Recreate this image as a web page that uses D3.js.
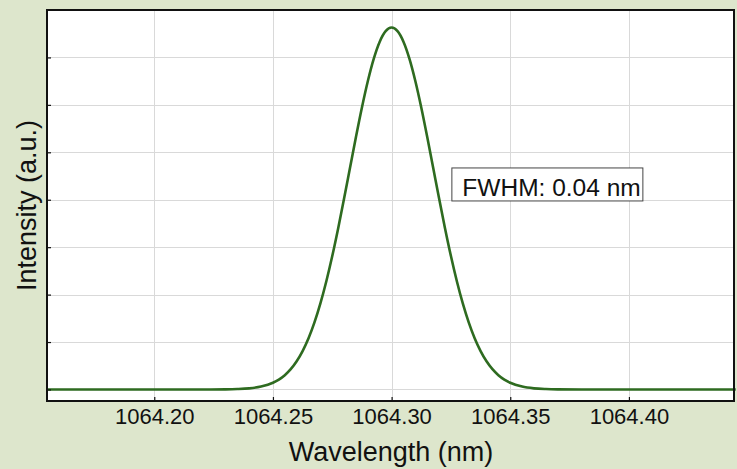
<!DOCTYPE html>
<html>
<head>
<meta charset="utf-8">
<script src="https://cdn.jsdelivr.net/npm/d3@7"></script>
<style>
  html, body { margin: 0; padding: 0; background: #dde6cc; }
  svg { display: block; }
  text { font-family: "Liberation Sans", Arial, sans-serif; fill: #111; }
</style>
</head>
<body>
<script>
// ---- data ----
const wavelength = [
  1064.155, 1064.20, 1064.22, 1064.23, 1064.235, 1064.24, 1064.245,
  1064.25, 1064.2525, 1064.255, 1064.2575, 1064.26, 1064.2625, 1064.265, 1064.2675,
  1064.27, 1064.2725, 1064.275, 1064.2775, 1064.28, 1064.2825, 1064.285, 1064.2875,
  1064.29, 1064.2925, 1064.295, 1064.2975, 1064.30,
  1064.3025, 1064.305, 1064.3075, 1064.31, 1064.3125, 1064.315, 1064.3175, 1064.32,
  1064.3225, 1064.325, 1064.3275, 1064.33, 1064.3325, 1064.335, 1064.3375, 1064.34,
  1064.3425, 1064.345, 1064.3475, 1064.35,
  1064.355, 1064.36, 1064.365, 1064.37, 1064.38, 1064.40, 1064.445
];
const intensity = [
  0, 0, 0, 0.003, 0.009, 0.024, 0.061,
  0.141, 0.208, 0.301, 0.427, 0.594, 0.809, 1.080, 1.414,
  1.814, 2.282, 2.814, 3.401, 4.030, 4.680, 5.328, 5.946,
  6.504, 6.975, 7.332, 7.554, 7.630,
  7.554, 7.332, 6.975, 6.504, 5.946, 5.328, 4.680, 4.030,
  3.401, 2.814, 2.282, 1.814, 1.414, 1.080, 0.809, 0.594,
  0.427, 0.301, 0.208, 0.141,
  0.061, 0.024, 0.009, 0.003, 0, 0, 0
];
const xTicks = [1064.20, 1064.25, 1064.30, 1064.35, 1064.40];
const yTicks = [0, 1, 2, 3, 4, 5, 6, 7];
const xDomain = [1064.1548, 1064.4447];
const yDomain = [-0.243, 8.0];
const xTitle = "Wavelength (nm)";
const yTitle = "Intensity (a.u.)";
const annotation = "FWHM: 0.04 nm";
const annotationAt = [1064.3254, 4.67]; // top-left corner of the label box, in data units

// ---- layout ----
const W = 737, H = 469;
const m = { left: 47, top: 10, right: 2, bottom: 68 };
const pw = W - m.left - m.right, ph = H - m.top - m.bottom;

const svg = d3.select("body").append("svg").attr("width", W).attr("height", H);
svg.append("rect").attr("width", W).attr("height", H).attr("fill", "#dde6cc");

const x = d3.scaleLinear().domain(xDomain).range([m.left, m.left + pw]);
const y = d3.scaleLinear().domain(yDomain).range([m.top + ph, m.top]);

// plot background
svg.append("rect").attr("x", m.left).attr("y", m.top).attr("width", pw).attr("height", ph).attr("fill", "#fff");

// gridlines
const grid = svg.append("g");
grid.selectAll("line.gx").data(xTicks).join("line")
  .attr("x1", d => Math.round(x(d)) + 0.5).attr("x2", d => Math.round(x(d)) + 0.5)
  .attr("y1", m.top).attr("y2", m.top + ph)
  .attr("stroke", "#d9d9d9").attr("stroke-width", 1);
grid.selectAll("line.gy").data(yTicks).join("line")
  .attr("y1", d => Math.round(y(d)) + 0.5).attr("y2", d => Math.round(y(d)) + 0.5)
  .attr("x1", m.left).attr("x2", m.left + pw)
  .attr("stroke", "#d9d9d9").attr("stroke-width", 1);

// curve
const pts = wavelength.map((w, i) => [w, intensity[i]]);
const line = d3.line().x(d => x(d[0])).y(d => y(d[1])).curve(d3.curveMonotoneX);
svg.append("path").datum(pts).attr("d", line)
  .attr("fill", "none").attr("stroke", "#2e6b20").attr("stroke-width", 2.6)
  .attr("stroke-linejoin", "round");

// axes (ticks inward, labels on x only)
const xAxis = d3.axisBottom(x).tickValues(xTicks).tickFormat(d3.format(".2f")).tickSizeInner(-4).tickSizeOuter(0).tickPadding(10);
const gx = svg.append("g").attr("transform", `translate(0,${m.top + ph})`).call(xAxis);
gx.select(".domain").remove();
gx.selectAll(".tick line").attr("stroke", "#111").attr("stroke-width", 1.2);
gx.selectAll(".tick text").attr("font-size", 22).attr("fill", "#111")
  .attr("font-family", "'Liberation Sans', Arial, sans-serif").attr("dy", null).attr("y", 22.5);

const yAxis = d3.axisLeft(y).tickValues(yTicks).tickFormat("").tickSizeInner(-4).tickSizeOuter(0);
const gy = svg.append("g").attr("transform", `translate(${m.left},0)`).call(yAxis);
gy.select(".domain").remove();
gy.selectAll(".tick line").attr("stroke", "#111").attr("stroke-width", 1.2);

// plot frame
svg.append("rect").attr("x", m.left).attr("y", m.top).attr("width", pw - 1).attr("height", ph)
  .attr("fill", "none").attr("stroke", "#111").attr("stroke-width", 2);

// titles
svg.append("text").attr("x", m.left + pw / 2).attr("y", 461).attr("text-anchor", "middle")
  .attr("font-size", 27).text(xTitle);
svg.append("text").attr("transform", `translate(36,${m.top + ph / 2}) rotate(-90)`)
  .attr("text-anchor", "middle").attr("font-size", 27).text(yTitle);

// annotation box
const ax = x(annotationAt[0]), ay = y(annotationAt[1]);
const g = svg.append("g");
g.append("rect").attr("x", ax).attr("y", ay).attr("width", 191).attr("height", 33)
  .attr("fill", "#fff").attr("stroke", "#444").attr("stroke-width", 1);
g.append("text").attr("x", ax + 10.5).attr("y", ay + 28).attr("font-size", 24.5).text(annotation);
</script>
</body>
</html>
